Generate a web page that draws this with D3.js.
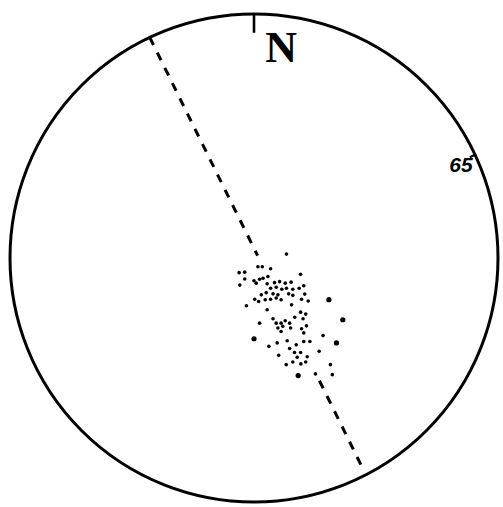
<!DOCTYPE html>
<html>
<head>
<meta charset="utf-8">
<script src="https://cdn.jsdelivr.net/npm/d3@7"></script>
<style>
  html, body { margin: 0; padding: 0; background: #fff; }
  svg { display: block; }
</style>
</head>
<body>
<svg id="chart" width="503" height="507"></svg>
<script>
// ---- data (net coordinates: east / north, primitive circle radius = 100) ----
const pointEast = [13.3,1.6,3.4,6.8,-6.1,-3.8,19.1,5.7,3.7,2.3,
  0,-3.8,8.4,10.5,12.8,15.2,-5.8,0.9,5.4,20.4,
  6.8,9.1,11.4,13.3,15.9,18.5,5.0,3.0,7.8,9.8,
  14.2,15.9,20.8,0.3,1.9,4.6,6.8,9.1,11.1,19.5,
  22.2,30.7,-3.1,15.4,5.4,19.1,21.2,16.7,7.8,20.1,
  36.4,2.3,9.1,11.1,12.8,14.6,9.8,11.8,15.0,21.5,
  19.5,11.1,20.4,28.3,0,13.6,20.4,22.9,9.5,33.8,
  17.3,6.1,14.6,16.6,19.1,26.7,10.1,17.7,21.8,15.9,
  19.2,21.2,13.2,31.3,18.1,25.2,32.1];
const pointNorth = [1.6,-3.6,-3.6,-4.4,-6.0,-5.8,-6.7,-7.6,-8.3,-8.7,
  -9.3,-8.6,-10.1,-9.7,-10.3,-9.9,-11.1,-10.3,-10.6,-11.4,
  -12.4,-12.0,-12.8,-12.4,-12.8,-12.4,-14.2,-15.1,-14.7,-15.1,
  -14.7,-15.3,-14.8,-16.9,-17.8,-17.1,-16.9,-16.4,-17.1,-16.9,
  -17.6,-17.1,-19.6,-19.2,-21.2,-22.2,-23.0,-24.3,-24.9,-24.9,
  -25.3,-26.7,-26.7,-26.7,-25.7,-26.7,-28.7,-28.0,-28.7,-27.8,
  -29.0,-30.1,-30.7,-31.8,-33.1,-33.9,-34.2,-34.2,-34.8,-34.8,
  -35.6,-36.2,-37.1,-38.7,-38.7,-38.2,-39.9,-40.7,-40.5,-42.6,
  -43.4,-42.6,-43.7,-43.7,-48.2,-47.5,-47.8];
const pointWeight = [1,1,1,1,1,1,1,1,1,1,
  1,1,1,1,1,1,1,1,1,1,
  1,1,1,1,1,1,1,1,1,1,
  1,1,1,1,1,1,1,1,1,1,
  1,2,1,1,1,1,1,1,1,1,
  2,1,1,1,1,1,1,1,1,1,
  1,1,1,1,2,1,1,1,1,2,
  1,1,1,1,1,1,1,1,1,1,
  1,1,1,1,2,1,1];

// great-circle trace (azimuths where it meets the primitive), visible portions along it
const traceAzimuths = [334.7, 152.7];
const traceVisible = [[0, 0.499], [0.785, 0.99]];

// marks on the primitive
const northAzimuth = 0;
const northLabel = "N";
const dipAzimuth = 65;
const dipLabel = "65";

// ---- drawing ----
const svg = d3.select("#chart");
const cx = 254, cy = 258, R = 244;
const x = d3.scaleLinear().domain([-100, 100]).range([cx - R, cx + R]);
const y = d3.scaleLinear().domain([-100, 100]).range([cy + R, cy - R]);
const rad = d => d * Math.PI / 180;
const polarE = (az, r) => r * Math.sin(rad(az));
const polarN = (az, r) => r * Math.cos(rad(az));

// primitive circle
svg.append("circle")
  .attr("cx", x(0)).attr("cy", y(0))
  .attr("r", x(100) - x(0))
  .attr("fill", "none")
  .attr("stroke", "#000")
  .attr("stroke-width", 3);

// dashed trace
const a = traceAzimuths.map(az => [polarE(az, 100), polarN(az, 100)]);
const line = d3.line().x(d => x(d[0])).y(d => y(d[1]));
traceVisible.forEach(([t0, t1]) => {
  const seg = [t0, t1].map(t => [a[0][0] + (a[1][0] - a[0][0]) * t, a[0][1] + (a[1][1] - a[0][1]) * t]);
  svg.append("path")
    .attr("d", line(seg))
    .attr("fill", "none")
    .attr("stroke", "#000")
    .attr("stroke-width", 3)
    .attr("stroke-dasharray", "8.5,8.5");
});

// north tick
svg.append("path")
  .attr("d", line([[polarE(northAzimuth, 100.3), polarN(northAzimuth, 100.3)],
                   [polarE(northAzimuth, 92.3), polarN(northAzimuth, 92.3)]]))
  .attr("stroke", "#000").attr("stroke-width", 2.6).attr("fill", "none");

// dip tick
svg.append("path")
  .attr("d", line([[polarE(dipAzimuth, 100.5), polarN(dipAzimuth, 100.5)],
                   [polarE(dipAzimuth, 97.6), polarN(dipAzimuth, 97.6)]]))
  .attr("stroke", "#000").attr("stroke-width", 2.2).attr("fill", "none");

// labels
svg.append("text")
  .attr("x", x(11.1)).attr("y", y(80.3))
  .attr("text-anchor", "middle")
  .attr("font-family", "Liberation Serif, serif")
  .attr("font-weight", "bold")
  .attr("font-size", 44)
  .attr("fill", "#000")
  .text(northLabel);

svg.append("text")
  .attr("x", x(89.6)).attr("y", y(35.3))
  .attr("text-anchor", "end")
  .attr("font-family", "Liberation Sans, sans-serif")
  .attr("font-weight", "bold")
  .attr("font-style", "italic")
  .attr("font-size", 21)
  .attr("fill", "#000")
  .text(dipLabel);

// points
const rScale = d3.scaleSqrt().domain([1, 2]).range([1.8, 2.6]);
svg.append("g").selectAll("circle")
  .data(d3.range(pointEast.length))
  .join("circle")
  .attr("cx", i => x(pointEast[i]))
  .attr("cy", i => y(pointNorth[i]))
  .attr("r", i => rScale(pointWeight[i]))
  .attr("fill", "#000");
</script>
</body>
</html>
